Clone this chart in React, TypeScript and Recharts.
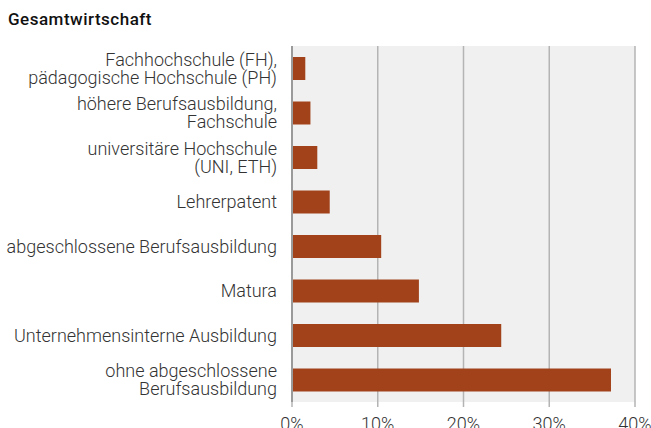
import React from "react";
import { BarChart, Bar, XAxis, YAxis, CartesianGrid } from "recharts";

const categories = [
  "Fachhochschule (FH),\npädagogische Hochschule (PH)",
  "höhere Berufsausbildung,\nFachschule",
  "universitäre Hochschule\n(UNI, ETH)",
  "Lehrerpatent",
  "abgeschlossene Berufsausbildung",
  "Matura",
  "Unternehmensinterne Ausbildung",
  "ohne abgeschlossene\nBerufsausbildung",
];
const shares = [1.55, 2.15, 2.95, 4.4, 10.4, 14.8, 24.4, 37.2];
const xTicks = [0, 10, 20, 30, 40];

const data = categories.map((name, i) => ({ name, value: shares[i] }));

const FONT = "Roboto, 'Noto Sans', sans-serif";

const CategoryTick = ({ x, y, payload }: any) => {
  const lines = String(payload.value).split("\n");
  const lh = 18;
  const start = -((lines.length - 1) * lh) / 2;
  return (
    <text
      x={x}
      y={y}
      textAnchor="end"
      fill="#333"
      fontSize={18}
      fontWeight={300}
      fontFamily={FONT}
    >
      {lines.map((l, i) => (
        <tspan key={i} x={x} y={y + start + i * lh} dy="0.35em">
          {l}
        </tspan>
      ))}
    </text>
  );
};

export default function App() {
  return (
    <div style={{ position: "absolute", left: 0, top: 0, width: 651, height: 428 }}>
      <div
        style={{
          position: "absolute",
          left: 8,
          top: 9,
          fontFamily: FONT,
          fontWeight: 500,
          fontSize: 17,
          letterSpacing: 0.5,
          color: "#111",
        }}
      >
        Gesamtwirtschaft
      </div>
      <BarChart
        width={651}
        height={428}
        data={data}
        layout="vertical"
        margin={{ top: 46, right: 16, bottom: 0, left: 0 }}
        barSize={23}
      >
        <CartesianGrid
          horizontal={false}
          fill="#eff0ef"
          stroke="#b4b4b4"
          strokeWidth={1.5}
        />
        <XAxis
          type="number"
          domain={[0, 40]}
          ticks={xTicks}
          tickFormatter={(v) => `${v}%`}
          axisLine={false}
          tickLine={{ stroke: "#b4b4b4", strokeWidth: 1.5 }}
          tickSize={5}
          tickMargin={10}
          height={26}
          interval={0}
          tick={{ fill: "#333", fontSize: 18, fontWeight: 300, fontFamily: FONT }}
        />
        <XAxis
          xAxisId="top"
          orientation="top"
          type="number"
          domain={[0, 40]}
          height={0}
          tick={false}
          tickLine={false}
          axisLine={{ stroke: "#aaaaaa", strokeWidth: 2 }}
        />
        <YAxis
          type="category"
          dataKey="name"
          width={292}
          tickSize={0}
          tickMargin={15}
          tickLine={false}
          axisLine={{ stroke: "#9a9a9a", strokeWidth: 2 }}
          interval={0}
          tick={<CategoryTick />}
        />
        <Bar dataKey="value" fill="#a2421a" isAnimationActive={false} />
      </BarChart>
    </div>
  );
}
